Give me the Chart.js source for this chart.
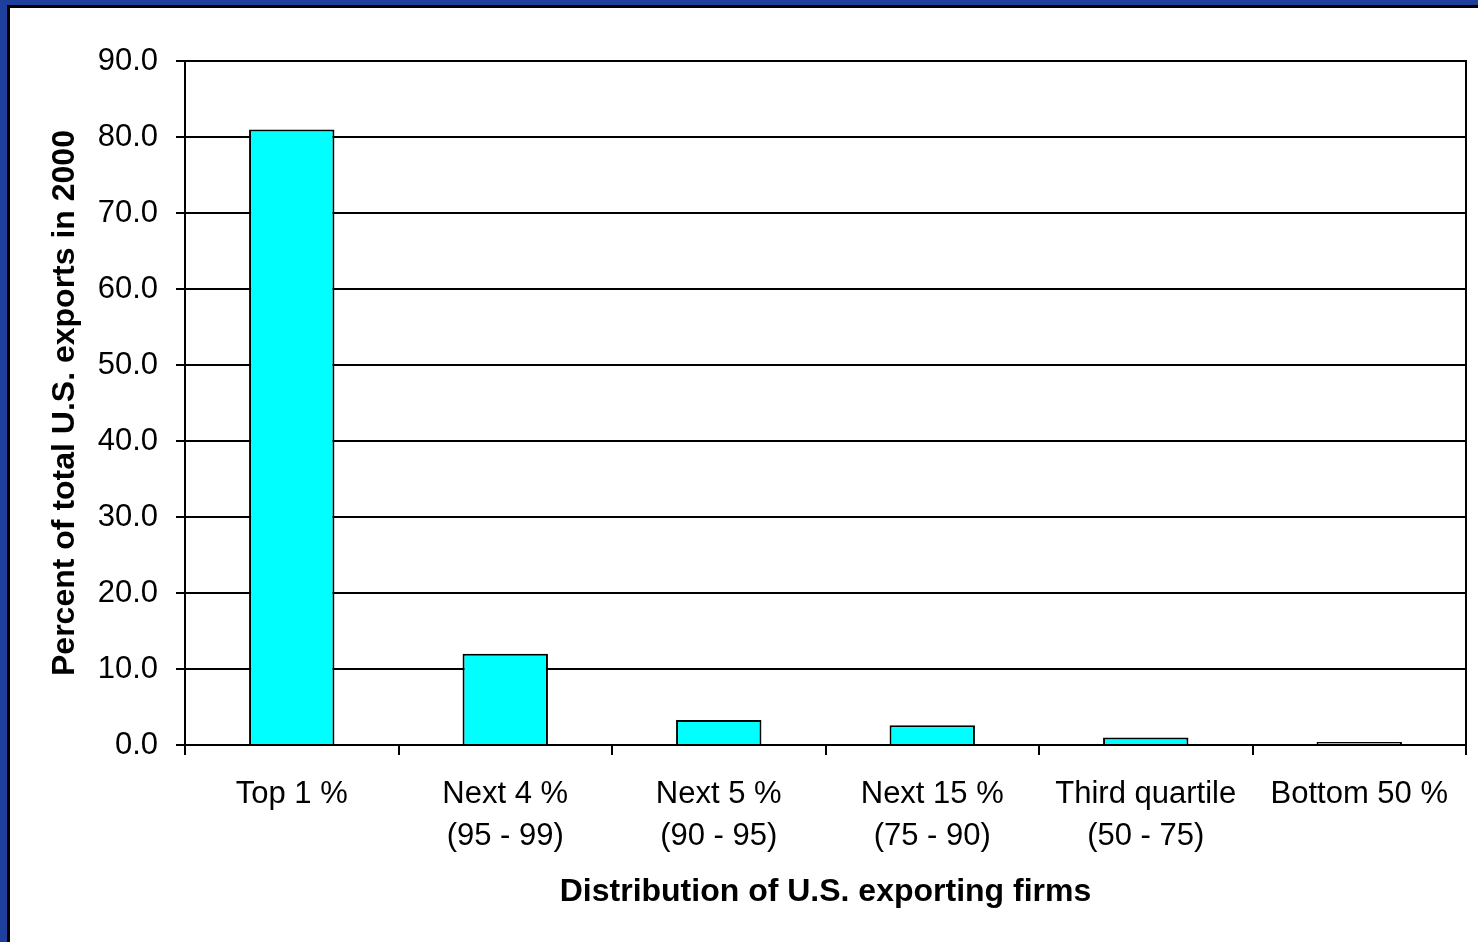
<!DOCTYPE html>
<html>
<head>
<meta charset="utf-8">
<script src="https://cdn.jsdelivr.net/npm/chart.js@4/dist/chart.umd.min.js"></script>
<style>
    body { margin: 0; background: #1E3F9B; width: 1478px; height: 942px; overflow: hidden; }
    #frame {
        position: absolute; left: 7px; top: 5px; right: 0; bottom: 0;
        border-left: 3px solid #000; border-top: 3px solid #000;
        background: #fff;
    }
    #chart { display: block; }
</style>
</head>
<body>
<div id="frame">
    <canvas id="chart" width="1468" height="934"></canvas>
</div>
<script>
categories = ['Top 1 %', 'Next 4 %', 'Next 5 %', 'Next 15 %', 'Third quartile', 'Bottom 50 %']
subLabels = ['', '(95 - 99)', '(90 - 95)', '(75 - 90)', '(50 - 75)', '']
exportShares = [81.0, 12.0, 3.3, 2.6, 1.0, 0.4]
yTicks = [0, 10, 20, 30, 40, 50, 60, 70, 80, 90]

var labels = categories.map(function (name, i) {
    return subLabels[i] ? [name, subLabels[i]] : name;
});

// right edge of the plot box
const frameRight = {
    id: 'frameRight',
    afterDraw: function (chart) {
        var ctx = chart.ctx;
        var area = chart.chartArea;
        ctx.save();
        ctx.strokeStyle = '#000';
        ctx.lineWidth = 2;
        ctx.beginPath();
        ctx.moveTo(area.right, area.top - 1);
        ctx.lineTo(area.right, area.bottom);
        ctx.stroke();
        ctx.restore();
    }
};

const ctx = document.getElementById('chart');

new Chart(ctx, {
    type: 'bar',
    data: {
        labels: labels,
        datasets: [{
            label: 'Percent of total U.S. exports in 2000',
            data: exportShares,
            backgroundColor: '#00FFFF',
            borderColor: '#000',
            borderWidth: 2,
            barPercentage: 0.4,
            categoryPercentage: 1.0
        }]
    },
    options: {
        responsive: false,
        animation: false,
        devicePixelRatio: 1,
        layout: { padding: { top: 53, right: 12, left: 0, bottom: 0 } },
        plugins: {
            legend: { display: false },
            tooltip: { enabled: false }
        },
        scales: {
            x: {
                grid: {
                    display: true,
                    drawOnChartArea: false,
                    drawTicks: true,
                    tickLength: 10,
                    color: '#000',
                    lineWidth: 2
                },
                border: { color: '#000', width: 2 },
                ticks: {
                    color: '#000',
                    font: { family: 'Liberation Sans, Arial, sans-serif', size: 31, lineHeight: 1.35 },
                    padding: 19,
                    maxRotation: 0,
                    autoSkip: false
                },
                title: {
                    display: true,
                    text: 'Distribution of U.S. exporting firms',
                    color: '#000',
                    font: { family: 'Liberation Sans, Arial, sans-serif', size: 32, weight: 'bold', lineHeight: 1.2 },
                    padding: { top: 0, bottom: 31 }
                },
                afterFit: function (scale) { scale.height = 197; }
            },
            y: {
                min: 0,
                max: 90,
                afterBuildTicks: function (scale) {
                    scale.ticks = yTicks.map(function (v) { return { value: v }; });
                },
                grid: {
                    color: '#000',
                    lineWidth: 2,
                    drawTicks: true,
                    tickLength: 9
                },
                border: { color: '#000', width: 2 },
                ticks: {
                    color: '#000',
                    font: { family: 'Liberation Sans, Arial, sans-serif', size: 31 },
                    padding: 18,
                    callback: function (value) { return Number(value).toFixed(1); }
                },
                title: {
                    display: true,
                    text: 'Percent of total U.S. exports in 2000',
                    color: '#000',
                    font: { family: 'Liberation Sans, Arial, sans-serif', size: 32, weight: 'bold', lineHeight: 1.2 },
                    padding: { top: 36, bottom: 0 }
                },
                afterFit: function (scale) { scale.width = 175; }
            }
        }
    },
    plugins: [frameRight]
});
</script>
</body>
</html>
